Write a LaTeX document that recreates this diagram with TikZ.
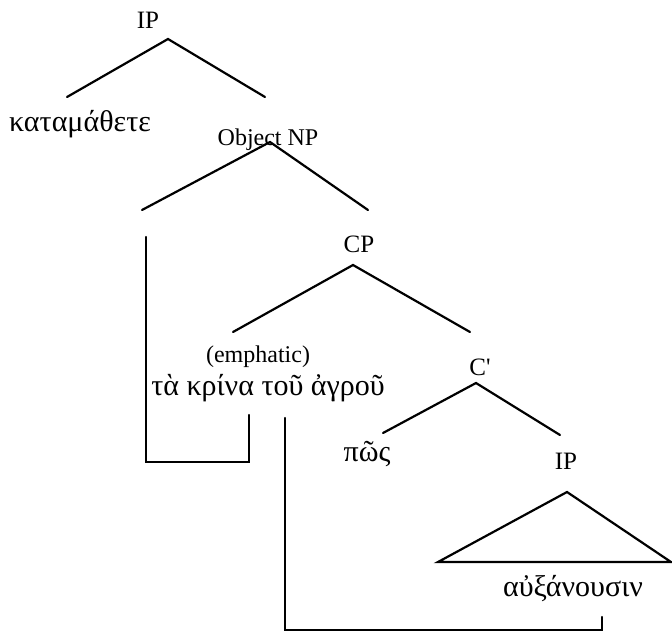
\documentclass[tikz,border=0pt]{standalone}
\usepackage{fontspec}
\setmainfont{Liberation Serif}
\tikzset{
  cat/.style={inner sep=0pt,anchor=base,font=\fontsize{25}{28}\selectfont},
  word/.style={inner sep=0pt,anchor=base,font=\fontsize{30}{33}\selectfont},
  small/.style={inner sep=0pt,anchor=base,font=\fontsize{24}{27}\selectfont},
  branch/.style={line width=2.2pt,line cap=round,line join=miter}
}
\begin{document}
\begin{tikzpicture}[x=1pt,y=-1pt]
  \useasboundingbox (0,0) rectangle (672,635);

  %nodes
  \node[cat] (ip) at (148,28) {IP};
  \node[word] (verb) at (80,131) {καταμάθετε};
  \node[small] (obj) at (268,145) {Object NP};
  \node[cat] (cp) at (359,252) {CP};
  \node[small] (emph) at (258,362) {(emphatic)};
  \node[word] (lilies) at (268,395) {τὰ κρίνα τοῦ ἀγροῦ};
  \node[cat] (cbar) at (480,375) {C\textquotesingle};
  \node[word] (how) at (367,461) {πῶς};
  \node[cat] (iplow) at (566,469) {IP};
  \node[word] (grow) at (573,596) {αὐξάνουσιν};

  %branch ends
  \coordinate (ip-a) at (168,39);  \coordinate (ip-l) at (67,97);   \coordinate (ip-r) at (265,97);
  \coordinate (obj-a) at (270,142); \coordinate (obj-l) at (142,210); \coordinate (obj-r) at (368,210);
  \coordinate (cp-a) at (353,265);  \coordinate (cp-l) at (233,332);  \coordinate (cp-r) at (470,332);
  \coordinate (cbar-a) at (476,383); \coordinate (cbar-l) at (383,433); \coordinate (cbar-r) at (560,435);
  \coordinate (tri-a) at (567,492); \coordinate (tri-l) at (438,562); \coordinate (tri-r) at (671,562);

  %branches
  \draw[branch] (ip-l) -- (ip-a) -- (ip-r);
  \draw[branch] (obj-l) -- (obj-a) -- (obj-r);
  \draw[branch] (cp-l) -- (cp-a) -- (cp-r);
  \draw[branch] (cbar-l) -- (cbar-a) -- (cbar-r);
  \draw[branch] (tri-a) -- (tri-l) -- (tri-r) -- cycle;

  %movement lines
  \coordinate (gap) at (146,237);  \coordinate (np-t) at (249,415);
  \coordinate (wh-t) at (285,418); \coordinate (v-t) at (602,617);
  \draw[branch] (gap) |- (249,462) -- (np-t);
  \draw[branch] (wh-t) |- (602,630) -- (v-t);
\end{tikzpicture}
\end{document}
